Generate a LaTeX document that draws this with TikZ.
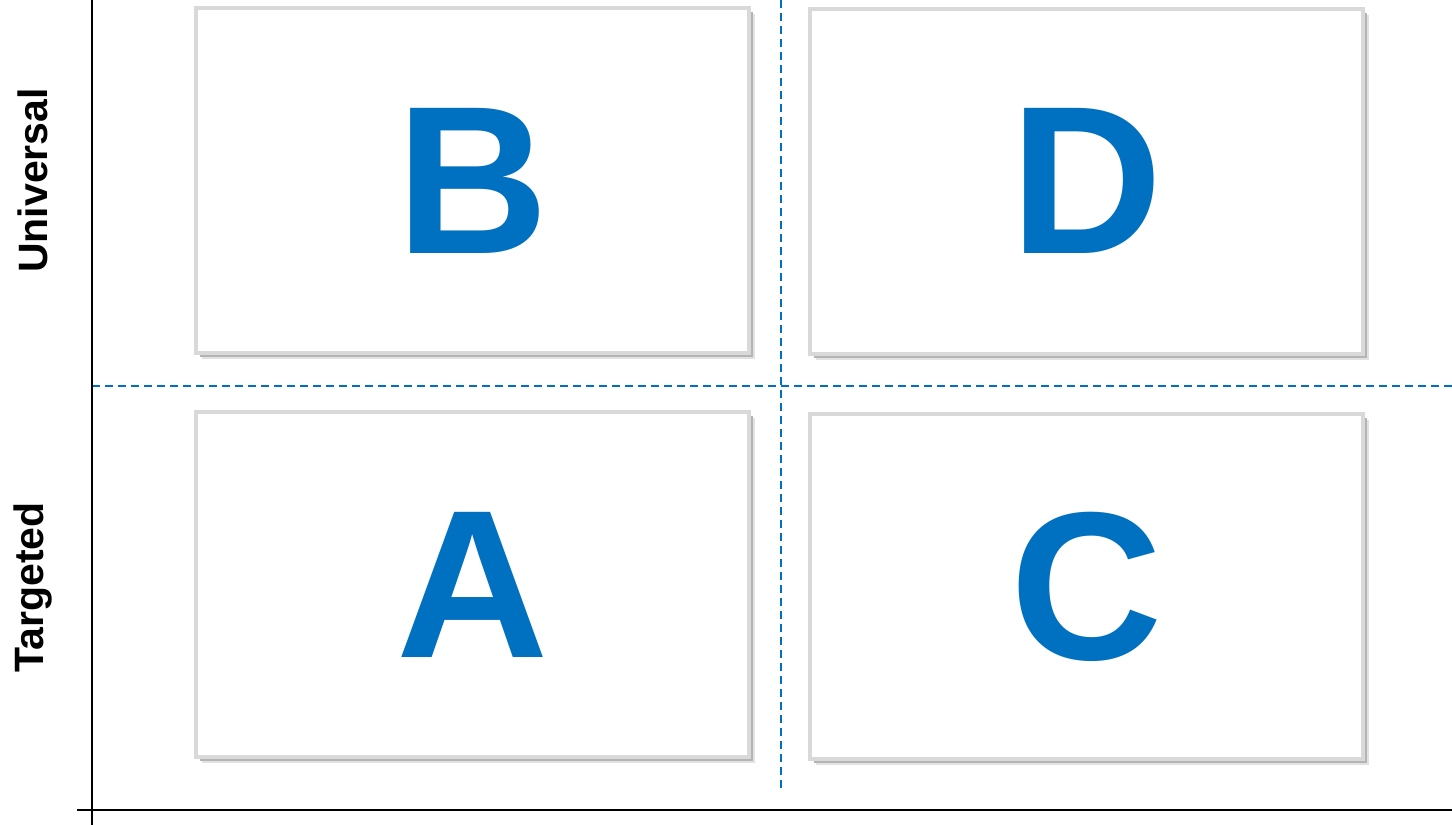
\documentclass[tikz,border=0pt]{standalone}
\usepackage{fontspec}
\setmainfont{Liberation Sans}
\usetikzlibrary{shadows}
\definecolor{qblue}{HTML}{0070C0}
\definecolor{qborder}{HTML}{D9D9D9}
\definecolor{qshadow}{HTML}{B4B4B4}
\definecolor{qshadowsoft}{HTML}{E2E2E2}
\begin{document}
\begin{tikzpicture}[x=1pt,y=-1pt,
  quad/.style={draw=qborder,line width=4pt,fill=white,
    minimum width=553pt,minimum height=345pt,inner sep=0pt,
    text=qblue,font=\fontsize{211}{211}\selectfont\bfseries,
    drop shadow={shadow xshift=6pt,shadow yshift=-6pt,fill=qshadowsoft,opacity=1},
    drop shadow={shadow xshift=4pt,shadow yshift=-4pt,fill=qshadow,opacity=1}},
  axis/.style={line width=2.6pt,black},
  guide/.style={qblue,line width=1.4pt,dash pattern=on 8pt off 5pt},
  axlabel/.style={rotate=90,font=\fontsize{41}{41}\selectfont\bfseries,inner sep=0pt}]
\useasboundingbox (0,0) rectangle (1452,825);
% guides
\coordinate (vt) at (781,0);
\coordinate (vb) at (781,790);
\coordinate (hl) at (92,386);
\coordinate (hr) at (1452,386);
\draw[guide] (vt) -- (vb);
\draw[guide] (hl) -- (hr);
% boxes
\node[quad] (B) at (472.5,180.5) {\raisebox{-3pt}{B}};
\node[quad] (D) at (1086.5,181) {\raisebox{-3pt}{D}};
\node[quad] (A) at (472.5,584.5) {\raisebox{-3pt}{A}};
\node[quad] (C) at (1086.5,586.5) {\raisebox{-3pt}{C}};
% axes
\coordinate (yt) at (92,0);
\coordinate (yb) at (92,825);
\coordinate (xl) at (77,810);
\coordinate (xr) at (1452,810);
\draw[axis] (yt) -- (yb);
\draw[axis] (xl) -- (xr);
% labels
\node[axlabel] (U) at (33,180.5) {Universal};
\node[axlabel] (T) at (33,587.5) {Targeted};
\end{tikzpicture}
\end{document}
